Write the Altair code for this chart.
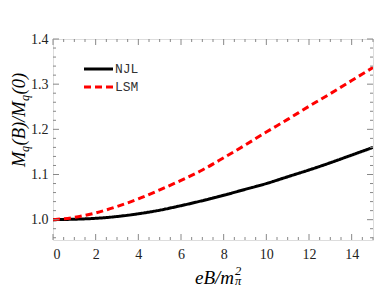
import altair as alt
import pandas as pd

# ---- data ----
eB = [0, 1, 2, 3, 4, 5, 6, 7, 8, 9, 10, 11, 12, 13, 14, 15]
njl = [1.000, 1.001, 1.003, 1.007, 1.013, 1.021, 1.031, 1.042, 1.054, 1.067,
       1.080, 1.095, 1.110, 1.126, 1.143, 1.160]
lsm = [1.000, 1.005, 1.015, 1.029, 1.046, 1.066, 1.087, 1.110, 1.137, 1.165,
       1.194, 1.222, 1.251, 1.279, 1.308, 1.337]
series = ["NJL", "LSM"]
colors = ["black", "red"]

x_major = [0, 2, 4, 6, 8, 10, 12, 14]
x_minor = [i / 2 for i in range(0, 31) if i % 4 != 0]
y_major = [1.0, 1.1, 1.2, 1.3, 1.4]
y_minor = [0.96, 0.98, 1.02, 1.04, 1.06, 1.08, 1.12, 1.14, 1.16, 1.18,
           1.22, 1.24, 1.26, 1.28, 1.32, 1.34, 1.36, 1.38]

W, H = 320, 201
XD = [0, 15]
YD = [0.955, 1.4]

df = pd.DataFrame({
    "eB": eB * 2,
    "M": njl + lsm,
    "model": [series[0]] * len(eB) + [series[1]] * len(eB),
})

xs = alt.Scale(domain=XD, nice=False, zero=False)
ys = alt.Scale(domain=YD, nice=False, zero=False)
x_axis = alt.Axis(values=x_major, ticks=False, domain=False, grid=False, title=None,
                  labelFont="Liberation Serif", labelFontSize=14, labelPadding=7,
                  labelColor="#222", format="d")
y_axis = alt.Axis(values=y_major, ticks=False, domain=False, grid=False, title=None,
                  labelFont="Liberation Serif", labelFontSize=14, labelPadding=5,
                  labelColor="#222", format=".1f")

lines = alt.Chart(df).mark_line(strokeWidth=3, interpolate="monotone", clip=True).encode(
    x=alt.X("eB:Q", scale=xs, axis=x_axis),
    y=alt.Y("M:Q", scale=ys, axis=y_axis),
    color=alt.Color("model:N", scale=alt.Scale(domain=series, range=colors), legend=None),
    strokeDash=alt.StrokeDash("model:N", scale=alt.Scale(domain=series, range=[[1, 0], [7, 4]]), legend=None),
)

tick_col = "#888"

def xticks(vals, length):
    d = pd.DataFrame({"eB": vals})
    b = alt.Chart(d).mark_rule(color=tick_col, strokeWidth=1).encode(
        x=alt.X("eB:Q", scale=xs, axis=x_axis), y=alt.value(H), y2=alt.value(H - length))
    t = alt.Chart(d).mark_rule(color=tick_col, strokeWidth=1).encode(
        x=alt.X("eB:Q", scale=xs, axis=x_axis), y=alt.value(0), y2=alt.value(length))
    return [b, t]

def yticks(vals, length):
    d = pd.DataFrame({"M": vals})
    l = alt.Chart(d).mark_rule(color=tick_col, strokeWidth=1).encode(
        y=alt.Y("M:Q", scale=ys, axis=y_axis), x=alt.value(0), x2=alt.value(length))
    r = alt.Chart(d).mark_rule(color=tick_col, strokeWidth=1).encode(
        y=alt.Y("M:Q", scale=ys, axis=y_axis), x=alt.value(W), x2=alt.value(W - length))
    return [l, r]

ticks = xticks(x_major, 6) + xticks(x_minor, 3) + yticks(y_major, 6) + yticks(y_minor, 3)

one = pd.DataFrame({"a": [0]})

def txt(s, x, y, size, angle=0, font="Liberation Serif", style="italic", color="black", baseline="alphabetic"):
    kw = dict(text=s, fontSize=size, font=font, color=color, align="left", baseline=baseline)
    if style:
        kw["fontStyle"] = style
    if angle:
        kw["angle"] = angle
    return alt.Chart(one).mark_text(**kw).encode(x=alt.value(x), y=alt.value(y))

titles = [
    txt("M", -28, 128, 18.5, angle=270),
    txt("q", -24, 113, 12, angle=270),
    txt("(B)/M", -28, 106.5, 18.5, angle=270),
    txt("q", -24, 62, 12, angle=270),
    txt("(0)", -28, 55.5, 18.5, angle=270),
    txt("eB/m", 142, 245, 19),
    txt("2", 182, 236, 12.5),
    txt("π", 182, 246, 12.5),
]

legend = []
for i, (name, col) in enumerate(zip(series, colors)):
    yy = 30 + 18 * i
    dash = [1, 0] if i == 0 else [7, 4]
    legend.append(alt.Chart(one).mark_rule(color=col, strokeWidth=3, strokeDash=dash).encode(
        x=alt.value(31), x2=alt.value(60), y=alt.value(yy)))
    legend.append(txt(name, 62, yy, 13, font="Liberation Mono", style=None, color="#333", baseline="middle"))

chart = alt.layer(lines, *ticks, *legend, *titles).properties(
    width=W, height=H,
    autosize=alt.AutoSizeParams(type="none"),
    padding={"left": 45, "top": 31, "right": 1, "bottom": 48},
).configure_view(stroke="#777", strokeWidth=1).configure(background="white")

chart.save("out.html", embed_options={"renderer": "svg", "actions": False})
